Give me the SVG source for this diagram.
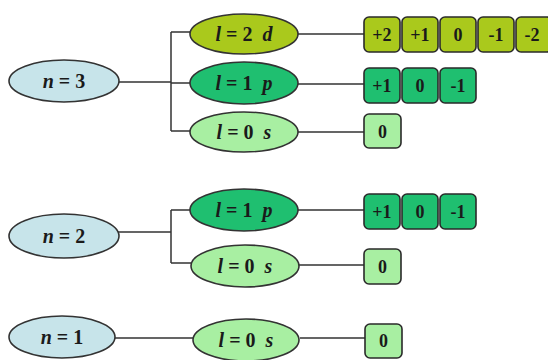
<svg xmlns="http://www.w3.org/2000/svg" width="548" height="360" viewBox="0 0 548 360">
<style>
.el{stroke:#333;stroke-width:1.6}
.n{fill:#c7e4ea}
.d{fill:#aac91c}
.p{fill:#1fbf70}
.s{fill:#a8efa2}
.bx{stroke:#2a2a2a;stroke-width:1.6}
.t{font-size:20px}
.i{font-style:italic}
.b{font-size:18px}
.c{fill:none;stroke:#333;stroke-width:1.5}
</style>
<rect width="548" height="360" fill="#fff"/>
<g id="connectors">
<path class="c" d="M119 82H171M171 32V131M171 32H191M171 83H190M171 131H191"/>
<path class="c" d="M298 34H364M298 84H364M298 132H364"/>
<path class="c" d="M118 232H171M171 210V263M171 210H191M171 263H191"/>
<path class="c" d="M298 210H364M298 265H364"/>
<path class="c" d="M115 338H193M300 338H365"/>
</g>
<g font-family="Liberation Serif, DejaVu Serif, serif" font-weight="bold" fill="#1a1a1a" text-anchor="middle">
<g id="n3"><ellipse class="el n" cx="64" cy="81" rx="55" ry="21"/><text class="t" x="64" y="88" fill="#1a1a1a"><tspan class="i">n</tspan> = 3</text></g>
<g id="n3d"><ellipse class="el d" cx="244" cy="34" rx="54" ry="20"/><text class="t" x="244" y="41" fill="#1a1a1a"><tspan class="i">l</tspan> = 2 <tspan class="i" dx="5">d</tspan></text></g>
<g id="n3p"><ellipse class="el p" cx="244" cy="83" rx="54" ry="21"/><text class="t" x="244" y="90" fill="#1a1a1a"><tspan class="i">l</tspan> = 1 <tspan class="i" dx="5">p</tspan></text></g>
<g id="n3s"><ellipse class="el s" cx="244" cy="132" rx="54" ry="20"/><text class="t" x="244" y="139" fill="#1a1a1a"><tspan class="i">l</tspan> = 0 <tspan class="i" dx="5">s</tspan></text></g>
<g id="m3d">
<rect class="bx d" x="364" y="17" width="36" height="35" rx="5"/><text class="b" x="382" y="41" fill="#1a1a1a">+2</text>
<rect class="bx d" x="402" y="17" width="36" height="35" rx="5"/><text class="b" x="420" y="41" fill="#1a1a1a">+1</text>
<rect class="bx d" x="440" y="17" width="36" height="35" rx="5"/><text class="b" x="458" y="41" fill="#1a1a1a">0</text>
<rect class="bx d" x="478" y="17" width="36" height="35" rx="5"/><text class="b" x="496" y="41" fill="#1a1a1a">-1</text>
<rect class="bx d" x="516" y="17" width="36" height="35" rx="5"/><text class="b" x="532" y="41" fill="#1a1a1a">-2</text>
</g>
<g id="m3p">
<rect class="bx p" x="364" y="68" width="36" height="35" rx="5"/><text class="b" x="382" y="92" fill="#1a1a1a">+1</text>
<rect class="bx p" x="402" y="68" width="36" height="35" rx="5"/><text class="b" x="420" y="92" fill="#1a1a1a">0</text>
<rect class="bx p" x="440" y="68" width="36" height="35" rx="5"/><text class="b" x="458" y="92" fill="#1a1a1a">-1</text>
</g>
<g id="m3s"><rect class="bx s" x="364" y="114" width="37" height="34" rx="5"/><text class="b" x="382.5" y="138" fill="#1a1a1a">0</text></g>
<g id="n2"><ellipse class="el n" cx="64" cy="236" rx="55" ry="22"/><text class="t" x="64" y="243" fill="#1a1a1a"><tspan class="i">n</tspan> = 2</text></g>
<g id="n2p"><ellipse class="el p" cx="244" cy="210" rx="54" ry="21"/><text class="t" x="244" y="217" fill="#1a1a1a"><tspan class="i">l</tspan> = 1 <tspan class="i" dx="5">p</tspan></text></g>
<g id="n2s"><ellipse class="el s" cx="245" cy="266" rx="54" ry="21"/><text class="t" x="245" y="273" fill="#1a1a1a"><tspan class="i">l</tspan> = 0 <tspan class="i" dx="5">s</tspan></text></g>
<g id="m2p">
<rect class="bx p" x="364" y="194" width="36" height="35" rx="5"/><text class="b" x="382" y="218" fill="#1a1a1a">+1</text>
<rect class="bx p" x="402" y="194" width="36" height="35" rx="5"/><text class="b" x="420" y="218" fill="#1a1a1a">0</text>
<rect class="bx p" x="440" y="194" width="36" height="35" rx="5"/><text class="b" x="458" y="218" fill="#1a1a1a">-1</text>
</g>
<g id="m2s"><rect class="bx s" x="364" y="249" width="37" height="35" rx="5"/><text class="b" x="382.5" y="273" fill="#1a1a1a">0</text></g>
<g id="n1"><ellipse class="el n" cx="62" cy="337" rx="53" ry="21"/><text class="t" x="62" y="344" fill="#1a1a1a"><tspan class="i">n</tspan> = 1</text></g>
<g id="n1s"><ellipse class="el s" cx="246" cy="340" rx="53" ry="21"/><text class="t" x="246" y="347" fill="#1a1a1a"><tspan class="i">l</tspan> = 0 <tspan class="i" dx="5">s</tspan></text></g>
<g id="m1s"><rect class="bx s" x="365" y="324" width="37" height="34" rx="5"/><text class="b" x="383.5" y="347" fill="#1a1a1a">0</text></g>
</g>
</svg>
